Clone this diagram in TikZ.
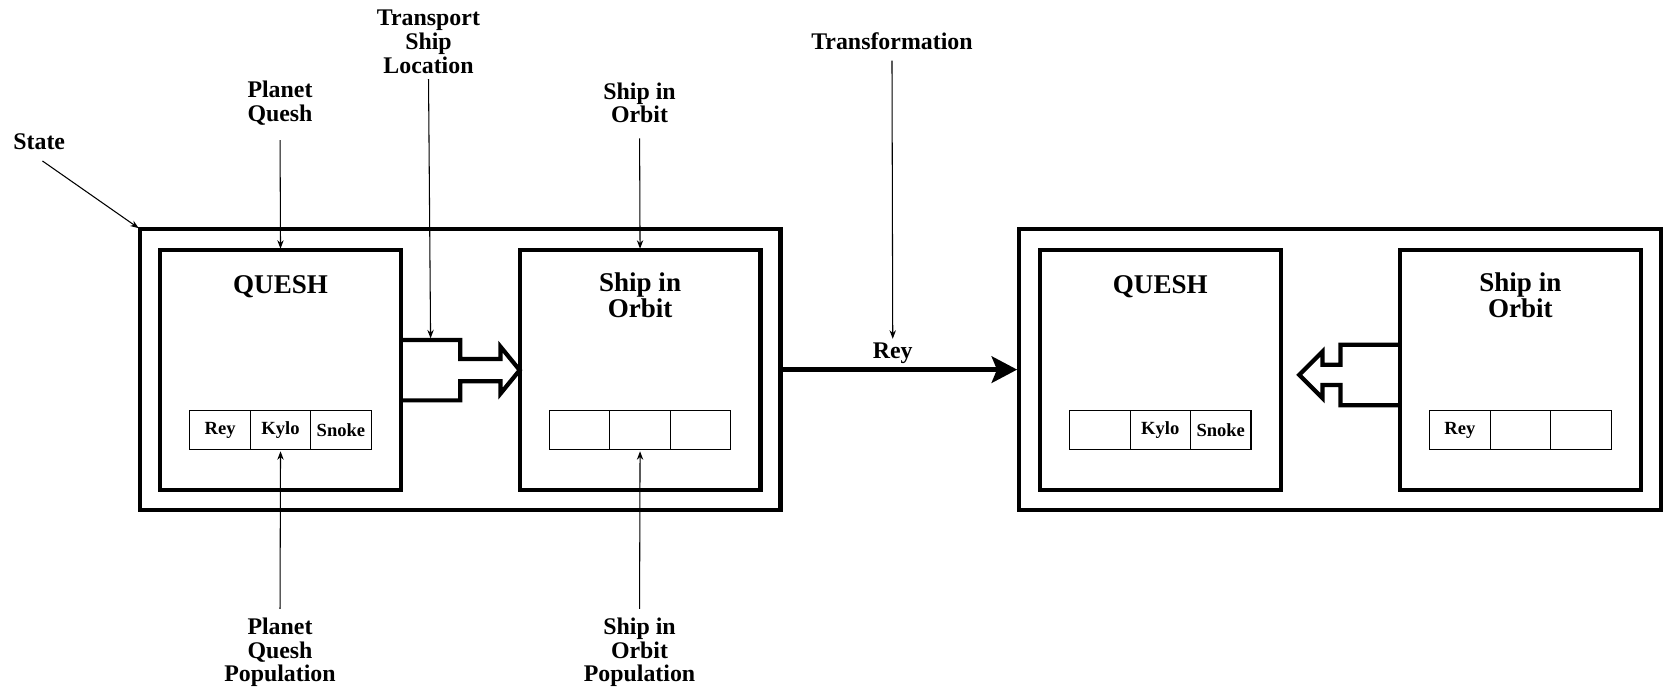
\documentclass[tikz,border=0pt]{standalone}
\usepackage{fontspec}
\setmainfont{Liberation Serif}
\usetikzlibrary{arrows.meta, calc, positioning}
\newcommand\lblfont{\fontsize{22.5}{22.5}\selectfont\bfseries}
\newcommand\namefont{\fontsize{25.5}{25}\selectfont\bfseries}
\newcommand\cellfont{\fontsize{17.5}{18}\selectfont\bfseries}
\tikzset{
    statebox/.style={draw, line width=4pt, minimum width=604pt, minimum height=265pt, outer sep=0pt},
    placebox/.style={draw, line width=4pt, minimum width=227pt, minimum height=226pt, outer sep=0pt},
    cell/.style={draw, line width=1pt, minimum width=57pt, minimum height=37pt, inner sep=0pt, outer sep=0pt, font=\cellfont},
    boxname/.style={align=center, inner sep=0pt, font=\namefont},
    lbl/.style={align=center, inner sep=0pt, font=\lblfont},
    pointer/.style={-{Stealth[length=8pt,width=6pt]}, line width=1pt, shorten >=1.5pt},
    fatarrow/.style={line width=4pt, line join=miter},
    moveline/.style={-{Stealth[length=24pt,width=25pt,inset=5pt]}, line width=4pt, shorten >=2pt}
}
\begin{document}
\begin{tikzpicture}[x=1pt, y=-1pt]
    \useasboundingbox (0,0) rectangle (1568,652);
    \def \drop {56.5}
    % state before
    \node[statebox] (stateA) at (434,348.5) {};
    \node[placebox] (queshA) at (264.5,349) {};
    \node[placebox] (orbitA) at (603.5,349) {};
    \node[boxname] (queshAName) at ([yshift=-34pt]queshA.north) {QUESH};
    \node[boxname] (orbitAName) at ([yshift=-42.5pt]orbitA.north) {Ship in\\Orbit};
    \node[cell] (qa2) at ([yshift=-\drop pt]queshA.center) {Kylo};
    \node[cell, left=0pt of qa2] (qa1) {Rey};
    \node[cell, right=0pt of qa2] (qa3) {Snoke};
    \node[cell] (oa2) at ([yshift=-\drop pt]orbitA.center) {};
    \node[cell, left=0pt of oa2] (oa1) {};
    \node[cell, right=0pt of oa2] (oa3) {};
    \draw[fatarrow] ([yshift=28.5pt]queshA.east) -- coordinate (shipTop) ++(56,0) -- ++(0,18) -- ++(38,0) -- ++(0,-11.5)
        -- (orbitA.west) -- ++(-18,22) -- ++(0,-11.5) -- ++(-38,0) -- ++(0,18) -- ++(-56,0);
    % state after
    \node[statebox, minimum width=605pt] (stateB) at (1263.5,348.5) {};
    \node[placebox] (queshB) at (1094,349) {};
    \node[placebox] (orbitB) at (1433.5,349) {};
    \node[boxname] (queshBName) at ([yshift=-34pt]queshB.north) {QUESH};
    \node[boxname] (orbitBName) at ([yshift=-42.5pt]orbitB.north) {Ship in\\Orbit};
    \node[cell] (qb2) at ([yshift=-\drop pt]queshB.center) {Kylo};
    \node[cell, left=0pt of qb2] (qb1) {};
    \node[cell, right=0pt of qb2] (qb3) {Snoke};
    \node[cell] (ob2) at ([yshift=-\drop pt]orbitB.center) {};
    \node[cell, left=0pt of ob2] (ob1) {Rey};
    \node[cell, right=0pt of ob2] (ob3) {};
    \draw[fatarrow] ([yshift=24pt]orbitB.west) -- ++(-56,0) -- ++(0,19) -- ++(-17,0) -- ++(0,-12.5) -- ++(-22,22)
        -- ++(22,22) -- ++(0,-12.5) -- ++(17,0) -- ++(0,19) -- ++(56,0);
    \draw[moveline] (stateA.east) -- node[lbl, pos=0.47, above=4pt] (reyLbl) {Rey} (stateB.west);
    % labels
    \node[lbl] (stateLbl) at (37,134) {State};
    \node[lbl] (planetLbl) at (264,97) {Planet\\Quesh};
    \node[lbl] (transLbl) at (404,39.5) {Transport\\Ship\\Location};
    \node[lbl] (orbitLbl) at (603,97) {Ship in\\Orbit};
    \node[lbl] (changeLbl) at (841,39) {Transformation};
    \node[lbl] (planetPop) at (264,615) {Planet\\Quesh\\Population};
    \node[lbl] (orbitPop) at (603,615) {Ship in\\Orbit\\Population};
    \draw[pointer] ([xshift=3pt,yshift=-10pt]stateLbl.south) -- (stateA.north west);
    \draw[pointer, shorten <=14pt] (planetLbl.south) -- (queshA.north);
    \draw[pointer, shorten <=5pt] (transLbl.south) -- (shipTop);
    \draw[pointer, shorten <=14pt] (orbitLbl.south) -- (orbitA.north);
    \draw[pointer, shorten <=10pt] (changeLbl.south) -- (reyLbl.north);
    \draw[pointer, shorten <=8pt] (planetPop.north) -- (qa2.south);
    \draw[pointer, shorten <=8pt] (orbitPop.north) -- (oa2.south);
\end{tikzpicture}
\end{document}
